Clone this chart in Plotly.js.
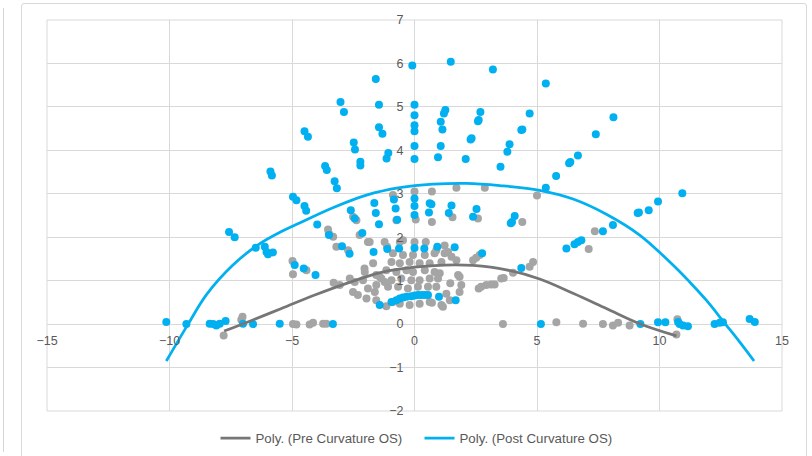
<!DOCTYPE html>
<html>
<head>
<meta charset="utf-8">
<script src="https://cdn.plot.ly/plotly-3.0.1.min.js"></script>
<style>
  html, body { margin: 0; padding: 0; background: #ffffff; }
  #wrap { position: relative; width: 812px; height: 456px; overflow: hidden; }
  #chart { position: absolute; left: 0; top: 0; width: 812px; height: 456px; }
  #frame { position: absolute; left: 21px; top: 3px; width: 784px; height: 470px; border: 1px solid #d9d9d9; border-radius: 3px; pointer-events: none; }
  #side { position: absolute; left: 3px; top: 8px; width: 1px; height: 444px; background: #d6d6d6; pointer-events: none; }
</style>
</head>
<body>
<div id="wrap">
  <div id="chart"></div>
  <div id="side"></div>
  <div id="frame"></div>
</div>
<script>
// Pre Curvature OS (grey markers)
const preX = [0,0.71,1.71,2.87,5.0,-0.88,
  0.05,0.71,1.55,2.59,4.40,-0.74,
  -2.51,-2.37,-3.53,-3.50,-3.32,-3.19,-2.71,
  -2.24,-1.90,-1.22,-1.12,-0.60,0,0.46,-1.83,-0.47,1.23,
  0.89,1.23,1.37,1.51,1.71,2.39,2.52,2.66,
  -0.88,-0.47,-0.06,0.42,0.82,
  -1.69,-0.94,-0.60,-0.20,0.21,0.62,1.10,
  -1.15,-0.74,-0.33,-0.06,0.42,0.82,1.03,
  -2.03,-1.42,-0.94,-0.54,-0.13,0.21,0.62,0.96,
  -1.56,-1.08,-0.67,-0.27,0.14,0.55,0.89,
  -1.90,-1.62,-2.10,1.30,1.84,1.78,1.84,1.46,1.91,
  -0.88,-0.60,-0.20,0.21,0.62,1.10,1.44,1.16,0.71,
  -1.96,-1.56,
  -2.04,-1.56,-1.35,-1.22,
  -2.64,-2.44,-3.05,-3.30,-2.51,-2.31,-1.15,
  -4.98,-4.96,-4.41,
  2.62,2.72,2.93,3.13,3.27,3.54,3.64,4.02,4.70,4.84,
  7.36,7.11,
  -7.07,-7.02,-7.79,
  -4.96,-4.82,-4.28,-4.14,-3.73,-3.60,
  3.61,5.79,6.88,7.69,8.10,8.31,8.78,10.73,10.69];
const preY = [3.05,3.05,3.14,3.14,2.96,2.97,
  2.41,2.35,2.46,2.43,2.35,2.39,
  2.47,2.39,2.18,2.09,2.01,1.78,1.70,
  2.05,1.89,1.89,1.78,1.89,1.89,1.89,1.89,1.93,1.81,
  1.70,1.63,1.66,1.55,1.47,1.47,1.53,1.59,
  1.63,1.59,1.59,1.59,1.63,
  1.40,1.43,1.40,1.43,1.40,1.40,1.43,
  1.24,1.20,1.24,1.20,1.24,1.20,1.17,
  1.20,1.09,1.01,1.05,1.01,1.01,1.05,1.05,
  0.90,0.86,0.86,0.82,0.86,0.86,0.86,
  0.82,0.74,1.01,0.70,0.74,1.13,1.09,0.94,0.90,
  0.51,0.47,0.44,0.47,0.51,0.44,0.55,0.40,0.49,
  0.59,0.55,
  1.28,1.13,1.05,0.97,
  1.05,0.97,0.90,0.95,0.74,0.67,0.41,
  1.45,1.15,1.24,
  0.82,0.86,0.90,0.91,0.91,1.05,1.06,1.18,1.32,1.43,
  2.14,1.73,
  0.10,0.17,-0.26,
  0,-0.01,-0.01,0.03,0.01,0.01,
  0,0.04,0.01,0,-0.03,0.03,-0.03,0.11,-0.24];

// Post Curvature OS (blue markers)
const postX = [-0.09,1.48,3.20,5.36,-1.58,
  -3.02,-2.88,-1.45,
  0,0,0,0,0,0,
  -1.45,-1.31,-4.49,-4.35,-2.48,-2.43,
  -1.07,-1.14,-2.21,-2.21,-3.65,-3.58,
  -5.88,-5.82,-3.26,-3.17,
  -4.96,-4.82,-4.49,-4.42,
  -2.60,-2.44,-1.64,-1.58,-1.45,
  -0.84,-0.77,-0.71,
  0,0,0,
  -3.97,
  1.26,1.20,1.07,1.14,
  2.69,2.62,2.59,2.29,2.33,
  4.70,4.40,4.36,7.40,8.12,
  3.88,3.79,1.07,0.96,2.09,3.51,
  6.67,6.36,6.31,5.78,5.36,
  10.93,9.94,9.56,9.16,9.11,8.10,7.69,
  0.62,0.69,0.59,1.51,1.40,2.53,2.39,
  4.09,3.98,3.93,
  6.20,6.53,6.67,6.81,
  4.36,2.76,1.64,0.93,0.40,0,
  -0.63,-1.11,-1.67,-2.13,-2.96,-2.65,
  -3.49,
  -4.89,-4.52,-4.04,
  -7.57,-7.34,-6.48,-6.11,-6.04,-5.78,-5.98,
  -1.42,-0.94,-0.74,-0.60,-0.47,-0.33,-0.13,0.01,0.14,0.28,0.42,0.55,1.00,1.68,
  -10.13,-9.31,-8.36,-8.22,-8.09,-7.95,-7.71,-7.00,-6.59,-5.50,-3.33,
  5.16,9.22,9.94,10.24,10.76,10.82,10.96,11.16,12.25,12.46,12.59,13.68,13.89];
const postY = [5.95,6.04,5.86,5.54,5.64,
  5.11,4.88,5.05,
  5.05,4.81,4.58,4.44,4.10,3.80,
  4.53,4.38,4.44,4.31,4.18,4.02,
  3.94,3.81,3.74,3.65,3.64,3.55,
  3.51,3.42,3.29,3.13,
  2.93,2.85,2.72,2.61,
  2.62,2.43,2.79,2.56,2.30,
  2.87,2.66,2.40,
  2.89,2.72,2.51,
  2.29,
  4.93,4.85,4.66,4.48,
  4.88,4.70,4.67,4.25,4.28,
  4.85,4.48,4.47,4.37,4.76,
  4.14,3.97,4.10,3.84,3.80,3.62,
  3.88,3.73,3.70,3.41,3.14,
  3.01,2.82,2.62,2.57,2.56,2.28,2.14,
  2.78,2.76,2.57,2.73,2.56,2.65,2.47,
  2.49,2.35,2.32,
  1.74,1.84,1.89,1.93,
  1.29,1.63,1.77,1.78,1.74,1.75,
  1.74,1.73,1.66,2.10,1.79,1.62,
  2.05,
  1.36,1.28,1.13,
  2.12,2.00,1.76,1.78,1.66,1.65,1.61,
  0.44,0.51,0.55,0.59,0.61,0.63,0.64,0.66,0.67,0.67,0.67,0.67,0.63,0.55,
  0.05,0,0.01,0,-0.03,0.01,0.07,0.01,0,0.01,0,
  0,0,0.04,0.04,0.05,0,-0.03,-0.05,0,0.03,0.04,0.12,0.05];

// Polynomial trendlines
const preTrendX = [-7.77,-6.80,-5.43,-4.07,-2.71,-1.35,0,1.23,2.39,3.75,5.11,6.47,7.83,9.19,10.69];
const preTrendY = [-0.16,0.05,0.36,0.67,0.95,1.19,1.31,1.36,1.35,1.25,1.04,0.71,0.36,0.01,-0.27];
const postTrendX = [-10.13,-9.24,-8.49,-7.41,-6.40,-5.37,-4.69,-3.33,-1.96,-0.60,0.76,2.12,3.48,5.11,6.47,7.83,9.19,10.55,11.23,11.91,12.69,13.27,13.86];
const postTrendY = [-0.85,0,0.68,1.36,1.82,2.15,2.33,2.68,2.97,3.14,3.22,3.24,3.19,3.08,2.88,2.53,2.05,1.36,0.97,0.55,0,-0.41,-0.85];

const seriesNames = ['Poly. (Pre Curvature OS)', 'Poly. (Post Curvature OS)'];

const GREY_DOT = '#a5a5a5', GREY_LINE = '#767676', BLUE = '#00b0f0';
const FONT = '"Liberation Sans", Arial, sans-serif';
const TXT = '#595959';

const traces = [
  { x: preX, y: preY, type: 'scatter', mode: 'markers', showlegend: false, hoverinfo: 'skip',
    marker: { color: GREY_DOT, size: 8, line: { width: 0 } } },
  { x: postX, y: postY, type: 'scatter', mode: 'markers', showlegend: false, hoverinfo: 'skip',
    marker: { color: BLUE, size: 8, line: { width: 0 } } },
  { x: preTrendX, y: preTrendY, type: 'scatter', mode: 'lines', name: seriesNames[0],
    line: { color: GREY_LINE, width: 2.75, shape: 'spline', smoothing: 1 } },
  { x: postTrendX, y: postTrendY, type: 'scatter', mode: 'lines', name: seriesNames[1],
    line: { color: BLUE, width: 2.75, shape: 'spline', smoothing: 1 } }
];

const layout = {
  width: 812, height: 456,
  margin: { l: 47, r: 30, t: 20, b: 45, pad: 0, autoexpand: false },
  paper_bgcolor: 'rgba(0,0,0,0)', plot_bgcolor: '#ffffff',
  font: { family: FONT, size: 12, color: TXT },
  showlegend: true,
  legend: { orientation: 'h', x: 0.5068, xanchor: 'center', y: -0.07, yanchor: 'middle',
    entrywidth: 159, entrywidthmode: 'pixels',
    font: { family: FONT, size: 13.3, color: TXT }, bgcolor: 'rgba(0,0,0,0)', traceorder: 'normal' },
  xaxis: {
    range: [-15, 15], tickmode: 'linear', tick0: -15, dtick: 5,
    showgrid: true, gridcolor: '#d9d9d9', gridwidth: 1,
    zeroline: true, zerolinecolor: '#d9d9d9', zerolinewidth: 1,
    showline: false, ticks: '', anchor: 'free', position: 2/9,
    ticklabelstandoff: 7,
    tickfont: { family: FONT, size: 12.5, color: TXT }, fixedrange: true
  },
  yaxis: {
    range: [-2, 7], tickmode: 'linear', tick0: -2, dtick: 1,
    showgrid: true, gridcolor: '#d9d9d9', gridwidth: 1,
    zeroline: true, zerolinecolor: '#d9d9d9', zerolinewidth: 1,
    showline: false, ticks: '', anchor: 'free', position: 0.5,
    ticklabelstandoff: 11,
    tickfont: { family: FONT, size: 12.5, color: TXT }, fixedrange: true
  },
  shapes: [
    { type: 'rect', xref: 'paper', yref: 'paper', x0: 0, x1: 1, y0: 0, y1: 1,
      line: { color: '#d9d9d9', width: 1 }, layer: 'below' }
  ]
};

Plotly.newPlot('chart', traces, layout, { displayModeBar: false, staticPlot: true });
</script>
</body>
</html>
